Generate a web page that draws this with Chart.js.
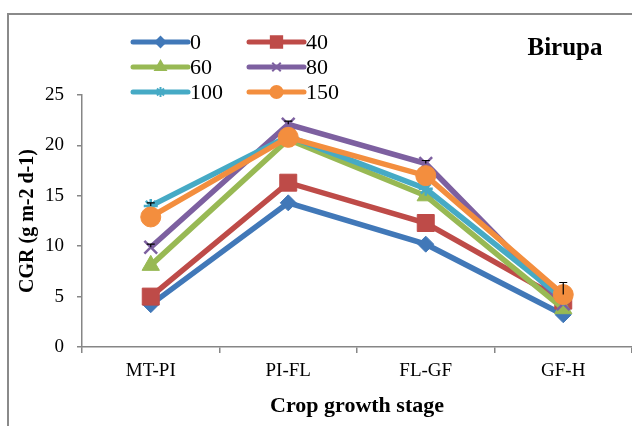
<!DOCTYPE html>
<html><head><meta charset="utf-8">
<script src="https://cdn.jsdelivr.net/npm/chart.js@4"></script>
<style>
html,body{margin:0;padding:0;background:#fff;width:632px;height:426px;overflow:hidden}
#wrap{position:relative;width:632px;height:426px}
#frame{position:absolute;left:7px;top:13px;width:700px;height:500px;border:2px solid #8a8a8a;box-sizing:border-box}
canvas{position:absolute;left:0;top:0}
</style></head><body>
<div id="wrap"><div id="frame"></div><canvas id="c" width="632" height="426"></canvas></div>
<script>
// ---- data ----
const stages = ['MT-PI', 'PI-FL', 'FL-GF', 'GF-H'];
const seriesNames = ['0', '40', '60', '80', '100', '150'];
const cgr0   = [4.2, 14.3, 10.2, 3.2];
const cgr40  = [5.0, 16.3, 12.3, 4.6];
const cgr60  = [8.1, 20.6, 15.0, 3.8];
const cgr80  = [9.9, 22.1, 18.2, 4.3];
const cgr100 = [14.0, 20.9, 15.7, 4.8];
const cgr150 = [12.9, 20.8, 17.0, 5.2];
const err80  = [0.3, 0.3, 0.3, 0];
const err100 = [0.3, 0, 0, 0];
const err150 = [0, 0, 0, 1.2];
const yTickValues = [0, 5, 10, 15, 20, 25];
const chartLabel = 'Birupa';
const xTitle = 'Crop growth stage';
const yTitle = 'CGR (g m-2 d-1)';

// ---- styles ----
const colors = ['#4178B8', '#BE4B48', '#98B954', '#7D60A0', '#46AAC5', '#F38E3E'];
const styles = ['rectRot', 'rect', 'triangle', 'crossRot', 'star', 'circle'];
const radii  = [8, 12, 10, 9, 7, 10];
const legendRadii = [5, 8, 6, 6, 5, 6];
const seriesData = [cgr0, cgr40, cgr60, cgr80, cgr100, cgr150];
const seriesErr = [null, null, null, err80, err100, err150];

const datasets = seriesNames.map((n, i) => ({
  label: n,
  data: seriesData[i],
  borderColor: colors[i],
  backgroundColor: colors[i],
  borderWidth: 5.5,
  pointStyle: styles[i],
  pointRadius: radii[i],
  pointBorderWidth: styles[i] === 'crossRot' || styles[i] === 'star' ? 2.5 : 1,
  pointHoverRadius: radii[i],
  tension: 0,
  clip: false,
  order: seriesNames.length - i,
  errors: seriesErr[i]
}));

const serif = '"Liberation Serif", "Times New Roman", serif';

const errorBars = {
  id: 'errorBars',
  afterDatasetsDraw(chart) {
    const ctx = chart.ctx, ys = chart.scales.y;
    chart.data.datasets.forEach((ds, di) => {
      if (!ds.errors) return;
      const meta = chart.getDatasetMeta(di);
      ds.errors.forEach((e, k) => {
        if (!e) return;
        const pt = meta.data[k];
        const yTop = ys.getPixelForValue(ds.data[k] + e);
        ctx.save();
        ctx.strokeStyle = '#000'; ctx.lineWidth = 1.2;
        ctx.beginPath();
        ctx.moveTo(pt.x, pt.y); ctx.lineTo(pt.x, yTop);
        ctx.moveTo(pt.x - 4, yTop); ctx.lineTo(pt.x + 4, yTop);
        ctx.stroke();
        ctx.restore();
      });
    });
  }
};

const customLegend = {
  id: 'customLegend',
  afterDraw(chart) {
    const ctx = chart.ctx;
    const cols = [133, 249], rows = [42, 67, 92], len = 55;
    chart.data.datasets.forEach((ds, i) => {
      const x = cols[i % 2], y = rows[Math.floor(i / 2)];
      ctx.save();
      ctx.strokeStyle = ds.borderColor; ctx.lineWidth = 5; ctx.lineCap = 'round';
      ctx.beginPath(); ctx.moveTo(x, y); ctx.lineTo(x + len, y); ctx.stroke();
      ctx.lineCap = 'butt';
      ctx.fillStyle = ds.backgroundColor; ctx.strokeStyle = ds.borderColor;
      ctx.lineWidth = 2;
      Chart.helpers.drawPoint(ctx, {pointStyle: ds.pointStyle, radius: legendRadii[i], borderWidth: 2, rotation: 0}, x + len / 2, y);
      ctx.fillStyle = '#000';
      ctx.font = '22px ' + serif;
      ctx.textBaseline = 'middle'; ctx.textAlign = 'left';
      ctx.fillText(ds.label, x + len + 2, y + 1);
      ctx.restore();
    });
    ctx.save();
    ctx.fillStyle = '#000';
    ctx.font = 'bold 25px ' + serif;
    ctx.textAlign = 'center'; ctx.textBaseline = 'middle';
    ctx.fillText(chartLabel, 565, 49);
    ctx.restore();
  }
};

const axisColor = '#868686';

new Chart(document.getElementById('c'), {
  type: 'line',
  data: { labels: stages, datasets: datasets },
  plugins: [errorBars, customLegend],
  options: {
    responsive: false,
    animation: false,
    devicePixelRatio: 1,
    layout: { autoPadding: false, padding: { top: 95, right: 0, bottom: 0, left: 0 } },
    plugins: { legend: { display: false }, tooltip: { enabled: false } },
    scales: {
      x: {
        type: 'category',
        offset: true,
        grid: { display: true, offset: true, drawOnChartArea: false, drawTicks: true, tickLength: 6, color: axisColor, lineWidth: 1.5 },
        border: { display: true, color: axisColor, width: 1.5 },
        ticks: { color: '#000', font: { family: serif, size: 19 }, padding: 7 },
        title: { display: true, text: xTitle, color: '#000', font: { family: serif, size: 22, weight: 'bold' }, padding: { top: 0, bottom: 6 } },
        afterFit(s) { s.height = 79; s.paddingLeft = 0; s.paddingRight = 0; }
      },
      y: {
        min: 0, max: 25,
        afterBuildTicks(s) { s.ticks = yTickValues.map(v => ({ value: v })); },
        grid: { display: true, drawOnChartArea: false, drawTicks: true, tickLength: 5, color: axisColor, lineWidth: 1.5 },
        border: { display: true, color: axisColor, width: 1.5 },
        ticks: { color: '#000', font: { family: serif, size: 19 }, padding: 13 },
        title: { display: true, text: yTitle, color: '#000', font: { family: serif, size: 20, weight: 'bold' }, padding: { top: 16, bottom: 0 } },
        afterFit(s) { s.width = 82; }
      }
    }
  }
});
</script>
</body></html>
